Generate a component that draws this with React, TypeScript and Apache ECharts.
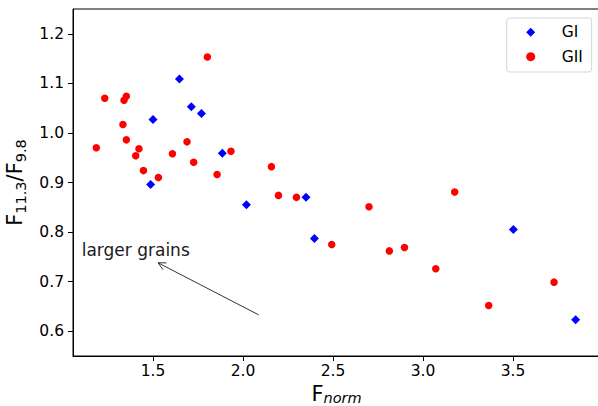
import React, { useEffect, useRef } from "react";
import * as echarts from "echarts";

const FONT = "'DejaVu Sans', sans-serif";

// GI series (blue diamonds)
const giX = [1.647, 1.713, 1.769, 1.5, 1.885, 1.487, 2.019, 2.35, 2.397, 3.502, 3.848];
const giY = [1.109, 1.053, 1.039, 1.027, 0.959, 0.896, 0.855, 0.87, 0.787, 0.805, 0.623];

// GII series (red circles)
const giiX = [
  1.802, 1.232, 1.352, 1.339, 1.333, 1.352, 1.185, 1.422, 1.404, 1.689, 1.608, 1.726, 1.933, 1.447,
  1.53, 1.856, 2.158, 2.197, 2.297, 2.7, 2.493, 2.813, 3.176, 2.897, 3.071, 3.728, 3.365,
];
const giiY = [
  1.153, 1.07, 1.074, 1.066, 1.017, 0.986, 0.97, 0.968, 0.954, 0.982, 0.958, 0.941, 0.963, 0.924,
  0.91, 0.916, 0.932, 0.874, 0.87, 0.851, 0.775, 0.762, 0.881, 0.769, 0.726, 0.699, 0.652,
];

// axes
const xTicks = [1.5, 2.0, 2.5, 3.0, 3.5];
const yTicks = [0.6, 0.7, 0.8, 0.9, 1.0, 1.1, 1.2];
const xRange = [1.0556, 3.9834];
const yRange = [0.55, 1.25];

// annotation
const annotationText = "larger grains";
const arrowTail = [2.087, 0.633];
const arrowHead = [1.528, 0.738];
const textPos = [1.104, 0.763];

export default function App() {
  const ref = useRef<HTMLDivElement>(null);
  useEffect(() => {
    if (!ref.current) return;
    const chart = echarts.init(ref.current, undefined, { renderer: "svg" });
    const giData = giX.map((x, i) => [x, giY[i]]);
    const giiData = giiX.map((x, i) => [x, giiY[i]]);
    const option: any = {
      animation: false,
      backgroundColor: "#fff",
      textStyle: { fontFamily: FONT },
      grid: {
        left: 73,
        top: 9,
        right: -2,
        bottom: 50,
        containLabel: false,
        outerBoundsMode: "none",
        show: true,
        borderColor: "#000",
        borderWidth: 1,
        backgroundColor: "transparent",
      },
      xAxis: {
        type: "value",
        min: xRange[0],
        max: xRange[1],
        splitLine: { show: false },
        axisLine: { show: true, lineStyle: { color: "#000", width: 1 } },
        axisTick: { show: true, inside: false, length: 5, lineStyle: { color: "#000" }, customValues: xTicks },
        axisLabel: {
          customValues: xTicks,
          formatter: (v: number) => v.toFixed(1),
          fontSize: 15.5,
          fontFamily: FONT,
          color: "#000",
          margin: 7,
        },
        name: "{a|F}{b|norm}",
        nameLocation: "middle",
        nameGap: 26,
        nameTextStyle: {
          rich: {
            a: { fontSize: 21, fontFamily: FONT, color: "#000", lineHeight: 22 },
            b: { fontSize: 14.5, fontFamily: FONT, fontStyle: "italic", color: "#000", lineHeight: 13, verticalAlign: "bottom" },
          },
        },
      },
      yAxis: {
        type: "value",
        min: yRange[0],
        max: yRange[1],
        splitLine: { show: false },
        axisLine: { show: true, lineStyle: { color: "#000", width: 1 } },
        axisTick: { show: true, inside: false, length: 5, lineStyle: { color: "#000" }, customValues: yTicks },
        axisLabel: {
          customValues: yTicks,
          formatter: (v: number) => v.toFixed(1),
          fontSize: 15.5,
          fontFamily: FONT,
          color: "#000",
          margin: 9,
        },
        name: "{a|F}{b|11.3}{a|/F}{b|9.8}",
        nameLocation: "middle",
        nameRotate: 90,
        nameGap: 40,
        nameTextStyle: {
          rich: {
            a: { fontSize: 21, fontFamily: FONT, color: "#000", lineHeight: 26 },
            b: { fontSize: 14.5, fontFamily: FONT, color: "#000", lineHeight: 17, verticalAlign: "bottom" },
          },
        },
      },
      legend: {
        data: [
          { name: "GI", icon: "diamond" },
          { name: "GII", icon: "circle" },
        ],
        orient: "vertical",
        align: "left",
        left: 506.7,
        top: 18,
        itemWidth: 9,
        itemHeight: 9,
        itemGap: 6.4,
        padding: [5.3, 8.8, 6.3, 19.5],
        borderColor: "#d5d5d5",
        borderWidth: 1,
        borderRadius: 3,
        backgroundColor: "#fff",
        textStyle: { fontSize: 15.5, fontFamily: FONT, color: "#000", lineHeight: 18, padding: [0, 0, 0, 21.5] },
      },
      series: [
        {
          name: "GI",
          type: "scatter",
          symbol: "diamond",
          symbolSize: 9,
          itemStyle: { color: "#0000ff", opacity: 1 },
          data: giData,
        },
        {
          name: "GII",
          type: "scatter",
          symbol: "circle",
          symbolSize: 7.5,
          itemStyle: { color: "#ff0000", opacity: 1 },
          data: giiData,
        },
        {
          name: "annotation",
          type: "custom",
          silent: true,
          clip: false,
          encode: { x: [0, 2, 4], y: [1, 3, 5] },
          data: [[arrowTail[0], arrowTail[1], arrowHead[0], arrowHead[1], textPos[0], textPos[1]]],
          renderItem: (params: any, api: any) => {
            const tail = api.coord([api.value(0), api.value(1)]);
            const head = api.coord([api.value(2), api.value(3)]);
            const tp = api.coord([api.value(4), api.value(5)]);
            const dx = tail[0] - head[0];
            const dy = tail[1] - head[1];
            const len = Math.hypot(dx, dy);
            const ux = dx / len;
            const uy = dy / len;
            const a = (27 * Math.PI) / 180;
            const L = 8.5;
            const rot = (ang: number) => [
              head[0] + L * (ux * Math.cos(ang) - uy * Math.sin(ang)),
              head[1] + L * (ux * Math.sin(ang) + uy * Math.cos(ang)),
            ];
            return {
              type: "group",
              children: [
                {
                  type: "line",
                  shape: { x1: tail[0], y1: tail[1], x2: head[0], y2: head[1] },
                  style: { stroke: "#333", lineWidth: 1 },
                },
                {
                  type: "polyline",
                  shape: { points: [rot(a), head, rot(-a)] },
                  style: { stroke: "#333", lineWidth: 1, fill: null },
                },
                {
                  type: "text",
                  x: tp[0],
                  y: tp[1],
                  style: {
                    text: annotationText,
                    fontSize: 17,
                    fontFamily: FONT,
                    fill: "#1a1a1a",
                    align: "left",
                    verticalAlign: "middle",
                  },
                },
              ],
            };
          },
        },
      ],
    };
    chart.setOption(option);
    return () => chart.dispose();
  }, []);
  return (
    <div
      ref={ref}
      style={{ position: "fixed", left: 0, top: 0, width: 598, height: 406, background: "#fff" }}
    />
  );
}
